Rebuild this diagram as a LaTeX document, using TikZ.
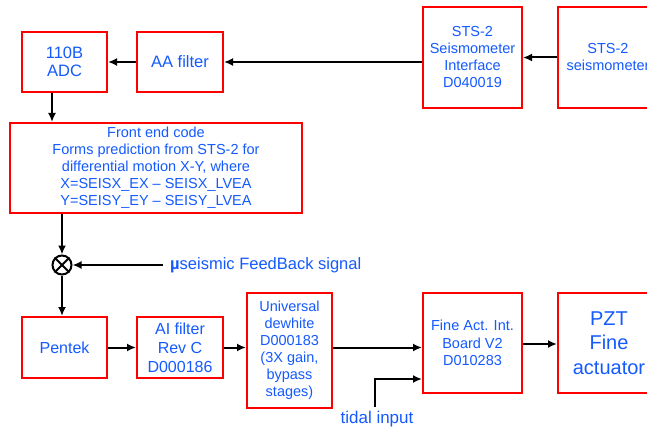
\documentclass[tikz,border=0pt]{standalone}
\usepackage{fontspec}
\setmainfont{Liberation Sans}
\usetikzlibrary{arrows.meta}
\definecolor{txtblue}{RGB}{20,90,255}
\definecolor{boxred}{RGB}{255,0,0}
\tikzset{
  blk/.style={draw=boxred, line width=2pt, text=txtblue, align=center, inner sep=1pt},
  arr/.style={line width=2pt, -{Latex[length=9pt,width=8pt]}},
  ln/.style={line width=2pt},
  lbl/.style={text=txtblue, inner sep=0pt},
}
\begin{document}
\begin{tikzpicture}[x=1pt,y=-1pt]
\useasboundingbox (0,0) rectangle (647,430);
\fill[white] (0,0) rectangle (647,430);
% top row
\node[blk, minimum width=85pt, minimum height=60pt, font=\fontsize{16.5}{18.5}\selectfont] (adc) at (64.5,62) {110B\\ADC};
\node[blk, minimum width=86pt, minimum height=60pt, font=\fontsize{16.5}{18.5}\selectfont] (aa) at (180,62) {AA filter};
\node[blk, minimum width=99pt, minimum height=101pt, font=\fontsize{14.5}{17}\selectfont] (sint) at (472.5,57.5) {STS-2\\Seismometer\\Interface\\D040019};
\node[blk, minimum width=100pt, minimum height=101pt, font=\fontsize{14.5}{17}\selectfont] (seis) at (608,57.5) {STS-2\\seismometer};
% front end
\node[blk, minimum width=292pt, minimum height=90pt, font=\fontsize{14.5}{17}\selectfont] (fe) at (156,168) {Front end code\\Forms prediction from STS-2 for\\differential motion X-Y, where\\X=SEISX\_EX -- SEISX\_LVEA\\Y=SEISY\_EY -- SEISY\_LVEA};
% summing junction
\node[draw, circle, line width=2pt, minimum size=19pt, inner sep=0pt] (sum) at (62,265) {};
\draw[ln] (sum.north west) -- (sum.south east);
\draw[ln] (sum.north east) -- (sum.south west);
\node[lbl, anchor=west, font=\fontsize{16.5}{19}\selectfont] (fb) at (170,265) {\textbf{µ}seismic FeedBack signal};
% bottom row
\node[blk, minimum width=85pt, minimum height=61pt, font=\fontsize{16}{19}\selectfont] (pentek) at (64.5,347.5) {Pentek};
\node[blk, minimum width=86pt, minimum height=61pt, font=\fontsize{16}{19}\selectfont] (ai) at (180,347.5) {AI filter\\Rev C\\D000186};
\node[blk, minimum width=85pt, minimum height=115pt, font=\fontsize{14.5}{17}\selectfont] (dw) at (289.5,350.5) {Universal\\dewhite\\D000183\\(3X gain,\\bypass\\stages)};
\node[blk, minimum width=99pt, minimum height=100pt, font=\fontsize{14.5}{17.5}\selectfont] (fa) at (472.5,343) {Fine Act. Int.\\Board V2\\D010283};
\node[blk, minimum width=102pt, minimum height=100pt, font=\fontsize{20}{24.5}\selectfont] (pzt) at (609,343) {PZT\\Fine\\actuator};
\node[lbl, font=\fontsize{17}{19}\selectfont] (tid) at (377,419) {tidal input};
\coordinate (tidc) at (375,407);
% connectors
\draw[arr] (seis.west) -- (sint.east);
\draw[arr] (sint.west |- aa.east) -- (aa.east);
\draw[arr] (aa.west) -- (adc.east);
\draw[arr] ([xshift=-12.5pt]adc.south) -- ([xshift=-12.5pt]adc.south |- fe.north);
\draw[arr] (sum |- fe.south) -- (sum.north);
\draw[arr] ([xshift=-7pt]fb.west) -- (sum.east);
\draw[arr] (sum.south) -- (sum |- pentek.north);
\draw[arr] (pentek.east) -- (ai.west);
\draw[arr] (ai.east) -- (ai.east -| dw.west);
\draw[arr] (ai.east -| dw.east) -- (ai.east -| fa.west);
\draw[arr] ([yshift=-1pt]fa.east) -- ([yshift=-1pt]fa.east -| pzt.west);
\draw[arr] (tidc) |- (fa.west |- 0,379);
\end{tikzpicture}
\end{document}
